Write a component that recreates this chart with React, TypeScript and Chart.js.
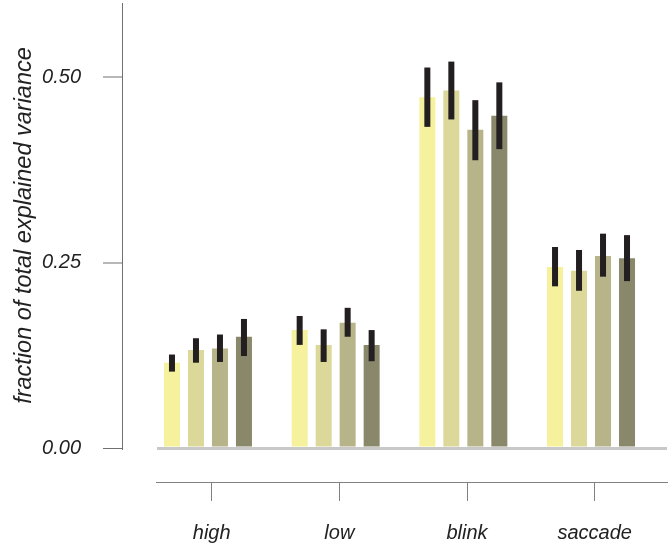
import React, { useEffect, useRef } from 'react';
import { Chart, registerables } from 'chart.js';

Chart.register(...registerables);

const categories = ['high', 'low', 'blink', 'saccade'];
const seriesNames = ['condition 1', 'condition 2', 'condition 3', 'condition 4'];

const series1 = [0.115, 0.159, 0.473, 0.244];
const series2 = [0.132, 0.139, 0.482, 0.239];
const series3 = [0.134, 0.169, 0.429, 0.259];
const series4 = [0.150, 0.139, 0.448, 0.256];

const series1Low = [0.103, 0.139, 0.433, 0.218];
const series1High = [0.126, 0.178, 0.513, 0.271];
const series2Low = [0.115, 0.116, 0.443, 0.212];
const series2High = [0.148, 0.160, 0.521, 0.267];
const series3Low = [0.116, 0.150, 0.388, 0.231];
const series3High = [0.153, 0.189, 0.469, 0.289];
const series4Low = [0.124, 0.117, 0.403, 0.225];
const series4High = [0.174, 0.159, 0.493, 0.287];

const yTicks = [0, 0.25, 0.5];
const yTitle = 'fraction of total explained variance';

const barColors = ['#f6f19c', '#dbd899', '#b8b489', '#8a886b'];
const FONT = "'Liberation Sans', Arial, Helvetica, sans-serif";

export default function App() {
  const ref = useRef<HTMLCanvasElement | null>(null);

  useEffect(() => {
    if (!ref.current) return;
    const values = [series1, series2, series3, series4];
    const lows = [series1Low, series2Low, series3Low, series4Low];
    const highs = [series1High, series2High, series3High, series4High];
    const catTicks = () => categories.map((_, i) => ({ value: i + 1 }));

    const errorBars = {
      id: 'errorBars',
      afterDatasetsDraw(chart: any) {
        const ctx = chart.ctx;
        const yScale = chart.scales.y;
        ctx.save();
        ctx.fillStyle = '#231f20';
        values.forEach((_, i) => {
          const meta = chart.getDatasetMeta(i);
          meta.data.forEach((el: any, j: number) => {
            const yt = yScale.getPixelForValue(highs[i][j]);
            const yb = yScale.getPixelForValue(lows[i][j]);
            ctx.fillRect(el.x - 3, yt, 6, yb - yt);
          });
        });
        ctx.restore();
      },
    };

    const chart = new Chart(ref.current, {
      type: 'bar',
      data: {
        datasets: values.map((v, i) => ({
          label: seriesNames[i],
          data: v.map((y, j) => ({ x: j + 1, y })),
          backgroundColor: barColors[i],
          borderWidth: 0,
          categoryPercentage: 0.7517,
          barPercentage: 0.6667,
          xAxisID: 'x',
          yAxisID: 'y',
        })),
      },
      options: {
        responsive: false,
        animation: false,
        devicePixelRatio: 1,
        layout: { padding: { left: 0, right: 3, top: 3, bottom: 0 } },
        plugins: { legend: { display: false }, tooltip: { enabled: false } },
        scales: {
          x: {
            type: 'linear',
            position: 'bottom',
            min: 0.593,
            max: 4.595,
            offset: false,
            weight: 0,
            afterBuildTicks: (s: any) => { s.ticks = catTicks(); },
            grid: { display: false, offset: false },
            border: { display: false },
            ticks: { display: false },
            afterFit: (s: any) => { s.height = 34; s.paddingLeft = 0; s.paddingRight = 0; },
          },
          xTicks: {
            type: 'linear',
            position: 'bottom',
            min: 0.564,
            max: 4.566,
            offset: false,
            weight: 10,
            afterBuildTicks: (s: any) => { s.ticks = catTicks(); },
            ticks: {
              callback: (v: any) => categories[Math.round(Number(v)) - 1] ?? '',
              font: { family: FONT, size: 20, style: 'italic' },
              color: '#222',
              padding: 20,
              maxRotation: 0,
              autoSkip: false,
            },
            grid: {
              offset: false,
              drawOnChartArea: false,
              drawTicks: true,
              tickLength: 19,
              color: '#808080',
              tickColor: '#808080',
              tickWidth: 1,
            },
            border: { display: true, color: '#808080', width: 1 },
            afterFit: (s: any) => { s.height = 66; s.paddingLeft = 0; s.paddingRight = 0; },
          },
          y: {
            type: 'linear',
            position: 'left',
            min: 0,
            max: 0.6,
            weight: 10,
            afterBuildTicks: (s: any) => { s.ticks = yTicks.map((v) => ({ value: v })); },
            ticks: {
              callback: (v: any) => Number(v).toFixed(2),
              font: { family: FONT, size: 20, style: 'italic' },
              color: '#222',
              padding: 22,
            },
            grid: {
              drawOnChartArea: true,
              drawTicks: true,
              tickLength: 19,
              color: (c: any) => (c.tick && c.tick.value === 0 ? '#c8c8c8' : 'rgba(0,0,0,0)'),
              lineWidth: (c: any) => (c.tick && c.tick.value === 0 ? 3 : 0),
              tickColor: '#707070',
              tickWidth: 1,
              z: 1,
            },
            border: { display: true, color: '#707070', width: 1, z: 1 },
            title: {
              display: true,
              text: yTitle,
              font: { family: FONT, size: 23.5, style: 'italic' },
              color: '#222',
              padding: { top: 10, bottom: 0 },
            },
            afterFit: (s: any) => { s.width = 122; s.paddingTop = 0; s.paddingBottom = 0; },
          },
          ySpacer: {
            type: 'linear',
            position: 'left',
            min: 0,
            max: 1,
            weight: 0,
            grid: { display: false },
            border: { display: false },
            ticks: { display: false },
            afterFit: (s: any) => { s.width = 34; s.paddingTop = 0; s.paddingBottom = 0; },
          },
        },
      } as any,
      plugins: [errorBars],
    });

    return () => chart.destroy();
  }, []);

  return (
    <div style={{ position: 'absolute', left: 0, top: 0, width: 670, height: 548, background: '#fff' }}>
      <canvas ref={ref} width={670} height={548} style={{ display: 'block', width: 670, height: 548 }} />
    </div>
  );
}
